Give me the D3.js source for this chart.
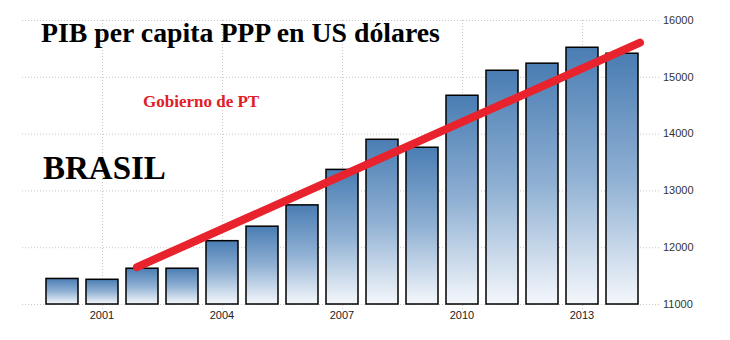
<!DOCTYPE html>
<html><head><meta charset="utf-8">
<script src="https://cdn.jsdelivr.net/npm/d3@7"></script>
<style>
html,body{margin:0;padding:0;background:#fff;}
svg{display:block;}
</style></head>
<body>
<svg id="chart" width="730" height="340"></svg>
<script>
const years = [2000,2001,2002,2003,2004,2005,2006,2007,2008,2009,2010,2011,2012,2013,2014];
const gdp = [11450,11435,11630,11630,12115,12370,12745,13370,13900,13760,14675,15115,15240,15520,15415];
const yTicks = [11000,12000,13000,14000,15000,16000];
const xTickYears = [2001,2004,2007,2010,2013];
const trendYears = [2001.875, 2014.45];
const trendValues = [11650, 15600];
const titleText = "PIB per capita PPP en US dólares";
const subText = "Gobierno de PT";
const countryText = "BRASIL";

const svg = d3.select("#chart");
const x = d3.scaleBand().domain(years).range([42,642]).paddingInner(0.2).paddingOuter(0.1);
const y = d3.scaleLinear().domain([11000,16000]).range([304,20]);
const step = x.step();
const xc = yr => x(years[0]) + x.bandwidth()/2 + (yr - years[0]) * step;

const defs = svg.append("defs");
const grad = defs.append("linearGradient").attr("id","barGrad")
  .attr("x1",0).attr("y1",0).attr("x2",0).attr("y2",1);
grad.append("stop").attr("offset","0%").attr("stop-color","#4a7db3");
grad.append("stop").attr("offset","50%").attr("stop-color","#8fb0d3");
grad.append("stop").attr("offset","100%").attr("stop-color","#f4f7fb");

// grid
const grid = svg.append("g");
grid.selectAll("line.h").data(yTicks).enter().append("line")
  .attr("x1",22).attr("x2",660).attr("y1",d=>y(d)+0.5).attr("y2",d=>y(d)+0.5)
  .attr("stroke","#c8c8c8").attr("stroke-dasharray","1,2");
grid.selectAll("line.v").data(xTickYears).enter().append("line")
  .attr("x1",d=>Math.round(xc(d))+0.5).attr("x2",d=>Math.round(xc(d))+0.5)
  .attr("y1",y(16000)).attr("y2",y(11000)+5)
  .attr("stroke","#c8c8c8").attr("stroke-dasharray","1,2");

// bars
svg.append("g").selectAll("rect").data(years).enter().append("rect")
  .attr("x",d=>x(d)).attr("width",x.bandwidth())
  .attr("y",(d,i)=>y(gdp[i])).attr("height",(d,i)=>y(11000)-y(gdp[i]))
  .attr("fill","url(#barGrad)").attr("stroke","#000").attr("stroke-width",1.5);

// y axis labels
svg.append("g").selectAll("text").data(yTicks).enter().append("text")
  .attr("x",663).attr("y",d=>y(d)).attr("dy","0.35em")
  .attr("font-family","Liberation Sans, Arial, sans-serif").attr("font-size",11)
  .attr("fill","#333").text(d=>d);

// x axis labels
svg.append("g").selectAll("text").data(xTickYears).enter().append("text")
  .attr("x",d=>xc(d)).attr("y",319).attr("text-anchor","middle")
  .attr("font-family","Liberation Sans, Arial, sans-serif").attr("font-size",11)
  .attr("fill","#222").text(d=>d);

// trend line
const trend = trendYears.map((t,i)=>[xc(t), y(trendValues[i])]);
svg.append("path").attr("d", d3.line()(trend))
  .attr("stroke","#e8232d").attr("stroke-width",8).attr("stroke-linecap","round").attr("fill","none");

// texts
svg.append("text").attr("x",41).attr("y",42)
  .attr("font-family","Liberation Serif, Times New Roman, serif").attr("font-weight","bold")
  .attr("font-size",27.8).attr("fill","#000").text(titleText);
svg.append("text").attr("x",143).attr("y",107)
  .attr("font-family","Liberation Serif, Times New Roman, serif").attr("font-weight","bold")
  .attr("font-size",17).attr("fill","#e02027").text(subText);
svg.append("text").attr("x",43).attr("y",179)
  .attr("font-family","Liberation Serif, Times New Roman, serif").attr("font-weight","bold")
  .attr("font-size",33).attr("fill","#000").text(countryText);
</script>
</body></html>
